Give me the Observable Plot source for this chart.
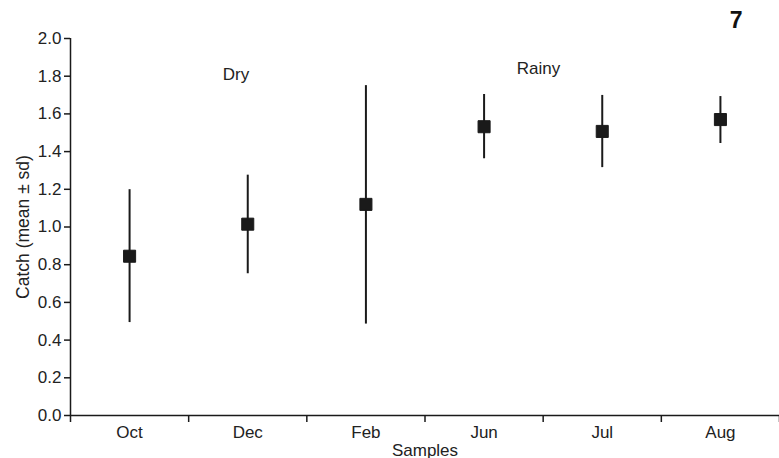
<!DOCTYPE html>
<html>
<head>
<meta charset="utf-8">
<script src="https://cdn.jsdelivr.net/npm/d3@7"></script>
<script src="https://cdn.jsdelivr.net/npm/@observablehq/plot@0.6"></script>
<style>
  html, body { margin: 0; padding: 0; background: #fff; }
  #chart svg { display: block; }
</style>
</head>
<body>
<div id="chart"></div>
<script>
const months = ["Oct", "Dec", "Feb", "Jun", "Jul", "Aug"];
const means = [0.845, 1.015, 1.12, 1.532, 1.507, 1.57];
const upper = [1.198, 1.275, 1.75, 1.703, 1.698, 1.692];
const lower = [0.493, 0.752, 0.485, 1.362, 1.315, 1.443];
const yTicks = [0, 0.2, 0.4, 0.6, 0.8, 1.0, 1.2, 1.4, 1.6, 1.8, 2.0];
const seasonLabels = ["Dry", "Rainy"];
const seasonX = [0.9, 3.46];
const seasonY = [1.81, 1.84];
const panelLabel = "7";

const data = months.map((m, i) => ({i, m, mean: means[i], lo: lower[i], hi: upper[i]}));
const seasons = seasonLabels.map((t, k) => ({t, x: seasonX[k], y: seasonY[k]}));
const bounds = d3.range(months.length + 1).map(k => k - 0.5);
const ink = "#1a1a1a";
const font = "'Liberation Sans', Arial, Helvetica, sans-serif";

const chart = Plot.plot({
  width: 779,
  height: 458,
  marginLeft: 70,
  marginRight: 0,
  marginTop: 38,
  marginBottom: 43,
  style: {fontFamily: font, fontSize: "17px", color: "#222", background: "#fff"},
  x: {type: "linear", domain: [-0.5, months.length - 0.5], axis: null},
  y: {domain: [0, 2], axis: null},
  marks: [
    Plot.axisY({ticks: yTicks, tickFormat: d3.format(".1f"), tickSize: 6, tickPadding: 3, stroke: ink, strokeWidth: 1.5, fontSize: 17, label: null}),
    Plot.axisX({ticks: bounds, tickFormat: () => "", tickSize: 7, stroke: ink, strokeWidth: 1.5, label: null}),
    Plot.axisX({ticks: d3.range(months.length), tickFormat: i => months[i], tickSize: 0, tickPadding: 10, fontSize: 17, label: null}),
    Plot.ruleY([0], {stroke: ink, strokeWidth: 1.5}),
    Plot.ruleX([-0.5], {y1: 0, y2: 2, stroke: ink, strokeWidth: 1.5}),
    Plot.ruleX(data, {x: "i", y1: "lo", y2: "hi", stroke: ink, strokeWidth: 2}),
    Plot.dot(data, {x: "i", y: "mean", symbol: "square", r: 6.8, fill: ink, stroke: ink, strokeWidth: 1, strokeLinejoin: "round"}),
    Plot.text(seasons, {x: "x", y: "y", text: "t", fontSize: 17, fill: "#222"}),
    Plot.text(["Samples"], {frameAnchor: "bottom", textAnchor: "middle", dy: 40, fontSize: 17, fill: "#222"}),
    Plot.text(["Catch (mean ± sd)"], {frameAnchor: "left", textAnchor: "middle", dx: -47, rotate: -90, fontSize: 17.5, fill: "#222"}),
    Plot.text([panelLabel], {frameAnchor: "top-right", textAnchor: "end", lineAnchor: "middle", dx: -37, dy: -18, fontSize: 23, fontWeight: "bold", fill: "#111"})
  ]
});
document.getElementById("chart").appendChild(chart);
</script>
</body>
</html>
